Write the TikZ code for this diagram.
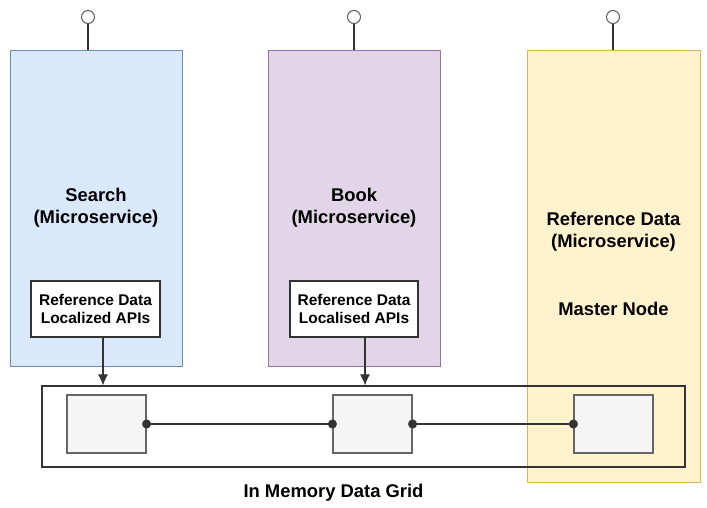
\documentclass[tikz,border=0pt]{standalone}
\usepackage{fontspec}
\setmainfont{Liberation Sans}
\usetikzlibrary{arrows.meta}
\definecolor{blueFill}{HTML}{DAE8FC}
\definecolor{blueLine}{HTML}{6C8EBF}
\definecolor{purpleFill}{HTML}{E1D5E7}
\definecolor{purpleLine}{HTML}{9673A6}
\definecolor{yellowFill}{HTML}{FFF2CC}
\definecolor{yellowLine}{HTML}{D6B656}
\definecolor{cellFill}{HTML}{F5F5F5}
\definecolor{cellLine}{HTML}{666666}
\definecolor{darkLine}{HTML}{333333}
\tikzset{
  service/.style={draw, line width=1pt, minimum width=172pt, minimum height=316pt, inner sep=0pt},
  apibox/.style={draw=darkLine, fill=white, line width=1.2pt, minimum width=128pt, minimum height=56pt, inner sep=0pt, align=center, font=\fontsize{15.5}{18}\selectfont\bfseries},
  cell/.style={draw=cellLine, fill=cellFill, line width=1.2pt, minimum width=79pt, minimum height=58pt, inner sep=0pt},
  pin/.style={draw=darkLine!80, fill=white, circle, line width=1pt, minimum size=13pt, inner sep=0pt},
  bigtext/.style={align=center, font=\fontsize{18.4}{22}\selectfont\bfseries},
  link/.style={line width=1.1pt, darkLine, {Circle[length=9pt]}-{Circle[length=9pt]}, shorten <=-4.5pt, shorten >=-4.5pt},
  feed/.style={line width=1.1pt, darkLine, -{Latex[length=11pt,width=10pt]}}
}
\begin{document}
\begin{tikzpicture}[x=1pt,y=-1pt]
\useasboundingbox (0,0) rectangle (707,507);
    % microservices
    \node[service, draw=blueLine, fill=blueFill] (search) at (96,208) {};
    \node[service, draw=purpleLine, fill=purpleFill] (book) at (354,208) {};
    \node[service, draw=yellowLine, fill=yellowFill, minimum width=173pt, minimum height=432pt] (refdata) at (613.5,266) {};
    \node[bigtext] (searchlbl) at (96,208) {Search\\(Microservice)};
    \node[bigtext] (booklbl) at (354,208) {Book\\(Microservice)};
    \node[bigtext] (reflbl) at (613.5,232) {Reference Data\\(Microservice)};
    \node[bigtext] (masterlbl) at (613.5,309) {Master Node};
    % endpoints on top
    \foreach \name/\px/\svc in {pinA/88/search, pinB/354/book, pinC/613/refdata} {
        \node[pin] (\name) at (\px,17) {};
        \draw[line width=1.1pt, darkLine] (\name.south) -- (\name.south |- \svc.north);
    }
    % local api boxes
    \node[apibox, minimum width=129pt] (apiA) at (95.5,309) {Reference Data\\Localized APIs};
    \node[apibox] (apiB) at (354,309) {Reference Data\\Localised APIs};
    % data grid
    \node[draw=darkLine, line width=1.2pt, minimum width=643pt, minimum height=81pt, inner sep=0pt] (grid) at (363.5,426.5) {};
    \node[cell] (cellA) at (106.5,424) {};
    \node[cell] (cellB) at (372.5,424) {};
    \node[cell] (cellC) at (613.5,424) {};
    \node[bigtext] (gridlbl) at (333.5,493) {In Memory Data Grid};
    \draw[link] (cellA.east) -- (cellB.west);
    \draw[link] (cellB.east) -- (cellC.west);
    \draw[feed] ([xshift=7.5pt]apiA.south) -- ([xshift=7.5pt]apiA.south |- grid.north);
    \draw[feed] ([xshift=11pt]apiB.south) -- ([xshift=11pt]apiB.south |- grid.north);
\end{tikzpicture}
\end{document}
